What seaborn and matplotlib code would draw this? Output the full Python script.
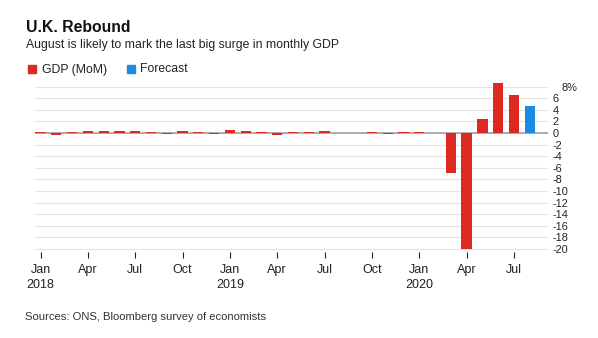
import matplotlib
matplotlib.use("Agg")
import matplotlib.pyplot as plt
import matplotlib.patches as mpatches
import matplotlib.transforms as mtransforms
import seaborn as sns
import pandas as pd

# ---- data ----
months = [f"{y}-{m:02d}" for y in (2018, 2019, 2020) for m in range(1, 13)][:32]
gdp_mom = [0.1, -0.3, 0.1, 0.3, 0.3, 0.3, 0.3, 0.1, -0.1, 0.3, 0.1, -0.15,
           0.5, 0.3, 0.1, -0.4, 0.1, 0.1, 0.4, 0.05, 0.05, 0.1, -0.2, 0.1,
           0.1, 0.05, -6.9, -20.0, 2.4, 8.7, 6.6, 4.6]
series = ["GDP (MoM)"] * 31 + ["Forecast"]
month_names = ["Jan", "Feb", "Mar", "Apr", "May", "Jun", "Jul", "Aug", "Sep", "Oct", "Nov", "Dec"]
y_ticks = list(range(-20, 9, 2))

RED = "#dc2a22"
BLUE = "#1b8ae2"

df = pd.DataFrame({"month": months, "value": gdp_mom, "series": series})

sns.set_theme(style="white")
plt.rcParams["font.family"] = ["Liberation Sans", "DejaVu Sans"]

fig = plt.figure(figsize=(5.98, 3.38), dpi=100)
ax = fig.add_axes([35 / 598, 0.2547, 512.9 / 598, 0.506])

sns.barplot(data=df, x="month", y="value", hue="series",
            palette={"GDP (MoM)": RED, "Forecast": BLUE},
            order=months, dodge=False, width=0.65, legend=False,
            saturation=1, ax=ax, zorder=2, edgecolor="none", linewidth=0)

ax.set_xlim(-0.35, 32.15)
ax.set_ylim(-20.5, 9)
for s in ax.spines.values():
    s.set_visible(False)

ax.set_yticks(y_ticks)
ax.set_yticklabels([f"{t}%" if t == 8 else str(t) for t in y_ticks])
ax.yaxis.tick_right()
ax.tick_params(axis="y", length=0, pad=3.6, labelsize=7.9, colors="#222222")
for lab in ax.get_yticklabels():
    lab.set_horizontalalignment("left")
    if lab.get_text().endswith("%"):
        lab.set_transform(lab.get_transform() +
                          mtransforms.ScaledTranslation(9 / 100, 0, fig.dpi_scale_trans))
ax.grid(axis="y", color="#e3e3e3", linewidth=0.8, zorder=0)
ax.set_axisbelow(True)
ax.axhline(0, color="#a0a0a0", linewidth=1.2, zorder=1.5)

xt = list(range(0, 32, 3))
xl = []
for i in xt:
    y, m = months[i].split("-")
    name = month_names[int(m) - 1]
    xl.append(f"{name}\n{y}" if m == "01" else name)
ax.set_xticks(xt)
ax.set_xticklabels(xl, linespacing=1.25)
ax.tick_params(axis="x", direction="out", length=4, width=0.8,
               pad=5, labelsize=9, colors="#222222", bottom=True)
for t in ax.xaxis.get_ticklines():
    t.set_color("#888888")
ax.set_xlabel("")
ax.set_ylabel("")

# ---- titles ----
fig.text(26 / 598, 1 - 32 / 338, "U.K. Rebound", fontsize=11.3, fontweight="bold",
         color="#111111", va="baseline")
fig.text(26 / 598, 1 - 48 / 338, "August is likely to mark the last big surge in monthly GDP",
         fontsize=8.85, color="#222222", va="baseline")

# legend
for x0, col, lab in [(28, RED, "GDP (MoM)"), (126.5, BLUE, "Forecast")]:
    fig.patches.append(mpatches.Rectangle((x0 / 598, 1 - 72.5 / 338), 8 / 598, 8 / 338,
                                          transform=fig.transFigure, color=col))
    fig.text((x0 + 13.5) / 598, 1 - 72.5 / 338, lab, fontsize=8.8, color="#222222",
             va="baseline")

fig.text(25 / 598, 1 - 320 / 338, "Sources: ONS, Bloomberg survey of economists",
         fontsize=8.15, color="#333333", va="baseline")

fig.savefig("out.png", dpi=100, facecolor="white")
